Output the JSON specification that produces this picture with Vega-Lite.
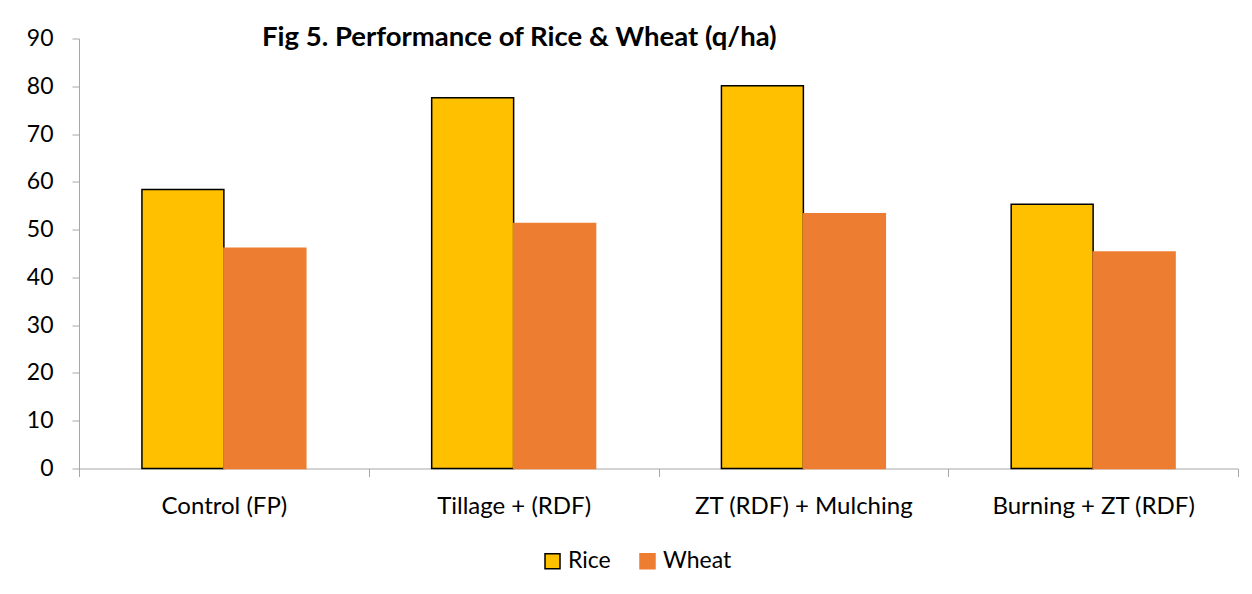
{
  "$schema": "https://vega.github.io/schema/vega-lite/v6.json",
  "width": 1159,
  "height": 430,
  "autosize": "none",
  "padding": {"left": 79, "top": 38.5, "right": 14, "bottom": 125.5},
  "background": "#ffffff",
  "title": {
    "text": "Fig 5. Performance of Rice & Wheat (q/ha)",
    "anchor": "start",
    "frame": "group",
    "dx": 183,
    "dy": 50,
    "baseline": "alphabetic",
    "font": "Lato",
    "fontSize": 27.5,
    "fontWeight": "bold",
    "color": "#000000"
  },
  "data": {
    "values": [
      {"Treatment": "Control (FP)", "Crop": "Rice", "Yield": 58.4},
      {"Treatment": "Control (FP)", "Crop": "Wheat", "Yield": 46.1},
      {"Treatment": "Tillage + (RDF)", "Crop": "Rice", "Yield": 77.6},
      {"Treatment": "Tillage + (RDF)", "Crop": "Wheat", "Yield": 51.3},
      {"Treatment": "ZT (RDF) + Mulching", "Crop": "Rice", "Yield": 80.1},
      {"Treatment": "ZT (RDF) + Mulching", "Crop": "Wheat", "Yield": 53.3},
      {"Treatment": "Burning + ZT (RDF)", "Crop": "Rice", "Yield": 55.3},
      {"Treatment": "Burning + ZT (RDF)", "Crop": "Wheat", "Yield": 45.3}
    ]
  },
  "mark": {"type": "bar", "strokeWidth": 1.5},
  "encoding": {
    "x": {
      "field": "Treatment",
      "type": "nominal",
      "sort": ["Control (FP)", "Tillage + (RDF)", "ZT (RDF) + Mulching", "Burning + ZT (RDF)"],
      "scale": {"paddingInner": 0, "paddingOuter": 0},
      "axis": {
        "title": null,
        "labelAngle": 0,
        "labelLimit": 0,
        "labelFont": "Lato",
        "labelFontSize": 24,
        "labelColor": "#000000",
        "labelPadding": 18,
        "domainColor": "#a6a6a6",
        "tickColor": "#a6a6a6",
        "tickSize": 8,
        "tickBand": "extent",
        "grid": false
      }
    },
    "xOffset": {
      "field": "Crop",
      "type": "nominal",
      "sort": ["Rice", "Wheat"],
      "scale": {"paddingInner": 0, "paddingOuter": 0.768}
    },
    "y": {
      "field": "Yield",
      "type": "quantitative",
      "scale": {"domain": [0, 90], "nice": false},
      "axis": {
        "title": null,
        "values": [0, 10, 20, 30, 40, 50, 60, 70, 80, 90],
        "labelFont": "Lato",
        "labelFontSize": 23,
        "labelColor": "#000000",
        "labelPadding": 19,
        "domainColor": "#a6a6a6",
        "tickColor": "#a6a6a6",
        "tickSize": 7,
        "grid": false
      }
    },
    "color": {
      "field": "Crop",
      "type": "nominal",
      "sort": ["Rice", "Wheat"],
      "scale": {"domain": ["Rice", "Wheat"], "range": ["#FFC000", "#ED7D31"]},
      "legend": {
        "title": null,
        "orient": "none",
        "direction": "horizontal",
        "legendX": 462,
        "legendY": 511,
        "symbolType": "square",
        "symbolSize": 225,
        "symbolStrokeWidth": 1.5,
        "labelFont": "Lato",
        "labelFontSize": 23,
        "labelColor": "#000000",
        "labelOffset": 4,
        "columnPadding": 25
      }
    },
    "stroke": {
      "field": "Crop",
      "type": "nominal",
      "sort": ["Rice", "Wheat"],
      "scale": {"domain": ["Rice", "Wheat"], "range": ["#000000", "#ED7D31"]},
      "legend": {
        "title": null,
        "orient": "none",
        "direction": "horizontal",
        "legendX": 462,
        "legendY": 511,
        "symbolType": "square",
        "symbolSize": 225,
        "symbolStrokeWidth": 1.5,
        "labelFont": "Lato",
        "labelFontSize": 23,
        "labelColor": "#000000",
        "labelOffset": 4,
        "columnPadding": 25
      }
    }
  },
  "config": {
    "view": {"stroke": null},
    "legend": {"padding": 0}
  }
}
